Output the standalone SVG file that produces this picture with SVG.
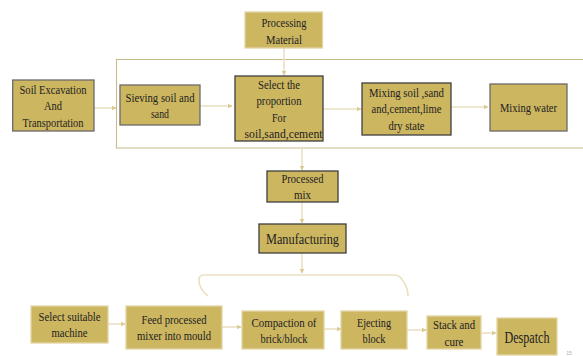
<svg xmlns="http://www.w3.org/2000/svg" width="583" height="356" viewBox="0 0 583 356">
<style>
  .box { fill: #CDB660; stroke-width: 1.3; }
  .dk { stroke: #3f3f3f; }
  .gr { stroke: #6a6a6a; }
  .lt { stroke: #E2D5A6; }
  text { font-family: "Liberation Serif", "Times New Roman", serif; font-size: 12.5px; fill: #222; text-anchor: middle; }
  .big { font-size: 14.5px; }
  .huge { font-size: 16.5px; }
  .conn { stroke: #EAE0C2; stroke-width: 1.6; fill: none; }
  .frame { stroke: #C9B98C; stroke-width: 1.1; fill: none; }
</style>
<defs>
  <marker id="ah" viewBox="0 0 10 10" refX="9" refY="5" markerWidth="5" markerHeight="5" orient="auto" markerUnits="userSpaceOnUse">
    <path d="M0,0 L10,5 L0,10 z" fill="#D9CA92"/>
  </marker>
</defs>
<rect width="583" height="356" fill="#fff"/>

<g id="connectors">
  <path class="frame" d="M590,59.5 H116.5 V148 H590"/>
  <line class="conn" x1="94" y1="108" x2="116" y2="108" marker-end="url(#ah)"/>
  <line class="conn" x1="200" y1="106" x2="232" y2="106" marker-end="url(#ah)"/>
  <line class="conn" x1="284" y1="48" x2="284" y2="75" marker-end="url(#ah)"/>
  <line class="conn" x1="323" y1="109" x2="361" y2="109" marker-end="url(#ah)"/>
  <line class="conn" x1="451" y1="107" x2="488" y2="107" marker-end="url(#ah)"/>
  <line class="conn" x1="302" y1="148" x2="302" y2="170" marker-end="url(#ah)"/>
  <line class="conn" x1="302" y1="202" x2="302" y2="223" marker-end="url(#ah)"/>
  <line class="conn" x1="302" y1="253" x2="302" y2="273" marker-end="url(#ah)"/>
  <path class="conn" d="M208,296 Q199,289 199,280 Q199,275 204,275 H394 Q400,275 403,281 Q408,288 408,296"/>
  <line class="conn" x1="108" y1="324" x2="125" y2="324" marker-end="url(#ah)"/>
  <line class="conn" x1="222" y1="327" x2="241" y2="327" marker-end="url(#ah)"/>
  <line class="conn" x1="324" y1="329" x2="341" y2="329" marker-end="url(#ah)"/>
  <line class="conn" x1="407" y1="330" x2="426" y2="330" marker-end="url(#ah)"/>
  <line class="conn" x1="481" y1="333" x2="496" y2="333" marker-end="url(#ah)"/>
</g>

<g id="processing-material">
  <rect class="box lt" x="245" y="12" width="77.5" height="36"/>
  <text x="284" y="27" textLength="45" lengthAdjust="spacingAndGlyphs">Processing</text>
  <text x="284" y="44" textLength="36" lengthAdjust="spacingAndGlyphs">Material</text>
</g>

<g id="soil-excavation">
  <rect class="box gr" x="12.7" y="80" width="81.3" height="51"/>
  <text x="53" y="94" textLength="67" lengthAdjust="spacingAndGlyphs">Soil Excavation</text>
  <text x="53" y="110" textLength="18" lengthAdjust="spacingAndGlyphs">And</text>
  <text x="53" y="127" textLength="61" lengthAdjust="spacingAndGlyphs">Transportation</text>
</g>

<g id="sieving">
  <rect class="box gr" x="120" y="85" width="80" height="40"/>
  <text x="160" y="102" textLength="69" lengthAdjust="spacingAndGlyphs">Sieving soil and</text>
  <text x="160" y="118" textLength="18" lengthAdjust="spacingAndGlyphs">sand</text>
</g>

<g id="select-proportion">
  <rect class="box dk" x="235" y="76" width="88" height="65"/>
  <text x="279" y="89" textLength="42" lengthAdjust="spacingAndGlyphs">Select the</text>
  <text x="279" y="105" textLength="45" lengthAdjust="spacingAndGlyphs">proportion</text>
  <text x="279" y="122" textLength="14" lengthAdjust="spacingAndGlyphs">For</text>
  <text x="283.5" y="138" textLength="78" lengthAdjust="spacingAndGlyphs">soil,sand,cement</text>
</g>

<g id="mixing-dry">
  <rect class="box dk" x="362" y="83" width="89" height="52"/>
  <text x="406.5" y="97" textLength="75" lengthAdjust="spacingAndGlyphs">Mixing soil ,sand</text>
  <text x="406.5" y="113" textLength="70" lengthAdjust="spacingAndGlyphs">and,cement,lime</text>
  <text x="406.5" y="130" textLength="36" lengthAdjust="spacingAndGlyphs">dry state</text>
</g>

<g id="mixing-water">
  <rect class="box gr" x="490" y="84" width="77" height="47"/>
  <text x="528.5" y="112" textLength="57" lengthAdjust="spacingAndGlyphs">Mixing water</text>
</g>

<g id="processed-mix">
  <rect class="box dk" x="267" y="171" width="71" height="31"/>
  <text x="302.5" y="183" textLength="42" lengthAdjust="spacingAndGlyphs">Processed</text>
  <text x="302.5" y="199" textLength="17" lengthAdjust="spacingAndGlyphs">mix</text>
</g>

<g id="manufacturing">
  <rect class="box dk" x="259" y="224" width="87" height="29"/>
  <text class="big" x="302.5" y="244" textLength="73" lengthAdjust="spacingAndGlyphs">Manufacturing</text>
</g>

<g id="select-machine">
  <rect class="box lt" x="31" y="306" width="77" height="37"/>
  <text x="69.5" y="321" textLength="62" lengthAdjust="spacingAndGlyphs">Select suitable</text>
  <text x="69.5" y="337" textLength="36" lengthAdjust="spacingAndGlyphs">machine</text>
</g>

<g id="feed-mould">
  <rect class="box lt" x="126" y="306" width="96" height="43"/>
  <text x="174" y="324" textLength="65" lengthAdjust="spacingAndGlyphs">Feed processed</text>
  <text x="174" y="340" textLength="74" lengthAdjust="spacingAndGlyphs">mixer into mould</text>
</g>

<g id="compaction">
  <rect class="box lt" x="242" y="311" width="82" height="38"/>
  <text x="284" y="327" textLength="65" lengthAdjust="spacingAndGlyphs">Compaction of</text>
  <text x="284" y="343" textLength="47" lengthAdjust="spacingAndGlyphs">brick/block</text>
</g>

<g id="ejecting">
  <rect class="box lt" x="341" y="311" width="66" height="38"/>
  <text x="374" y="327" textLength="34" lengthAdjust="spacingAndGlyphs">Ejecting</text>
  <text x="374" y="343" textLength="23" lengthAdjust="spacingAndGlyphs">block</text>
</g>

<g id="stack-cure">
  <rect class="box lt" x="427" y="316" width="54" height="33"/>
  <text x="454" y="329" textLength="42" lengthAdjust="spacingAndGlyphs">Stack and</text>
  <text x="454" y="346" textLength="19" lengthAdjust="spacingAndGlyphs">cure</text>
</g>

<g id="despatch">
  <rect class="box lt" x="497" y="318" width="60" height="37"/>
  <text class="huge" x="527" y="343" textLength="45" lengthAdjust="spacingAndGlyphs">Despatch</text>
</g>

<text x="569" y="355" style="font-family:'Liberation Sans',Arial,sans-serif;font-size:5px;fill:#aaa">15</text>
</svg>
